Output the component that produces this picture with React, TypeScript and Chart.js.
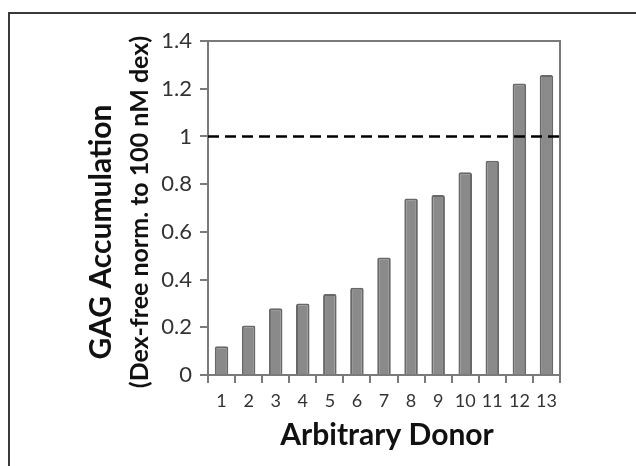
import { useEffect, useRef } from "react";
import { Chart, registerables } from "chart.js";

Chart.register(...registerables);

const donors = ["1", "2", "3", "4", "5", "6", "7", "8", "9", "10", "11", "12", "13"];
const gagValues = [0.12, 0.208, 0.28, 0.3, 0.34, 0.366, 0.493, 0.74, 0.754, 0.85, 0.898, 1.222, 1.257];
const referenceLevel = 1;
const yMin = 0;
const yMax = 1.4;
const yStep = 0.2;
const yTitleLines = ["GAG Accumulation", "(Dex-free norm. to 100 nM dex)"];
const xTitle = "Arbitrary Donor";

const FONT = "Lato, 'Open Sans', sans-serif";
const AXIS_GRAY = "#7a7a7a";

const decorPlugin = {
  id: "decor",
  afterDatasetsDraw(chart: any) {
    const { ctx, chartArea, scales } = chart;
    const y = scales.y.getPixelForValue(referenceLevel);
    ctx.save();
    ctx.strokeStyle = "#000";
    ctx.lineWidth = 2.5;
    ctx.setLineDash([11, 6]);
    ctx.beginPath();
    ctx.moveTo(chartArea.left, y);
    ctx.lineTo(chartArea.right, y);
    ctx.stroke();
    ctx.restore();
  },
  afterDraw(chart: any) {
    const { ctx, chartArea } = chart;
    ctx.save();
    // plot frame (top and right)
    ctx.strokeStyle = AXIS_GRAY;
    ctx.lineWidth = 2;
    ctx.beginPath();
    ctx.moveTo(chartArea.left, chartArea.top);
    ctx.lineTo(chartArea.right, chartArea.top);
    ctx.lineTo(chartArea.right, chartArea.bottom);
    ctx.stroke();

    // outer figure frame (top and left)
    ctx.strokeStyle = "#3a3a3a";
    ctx.lineWidth = 2;
    ctx.beginPath();
    ctx.moveTo(9, 466);
    ctx.lineTo(9, 13);
    ctx.lineTo(636, 13);
    ctx.stroke();

    // y title
    ctx.fillStyle = "#111";
    ctx.textAlign = "center";
    ctx.textBaseline = "middle";
    ctx.save();
    ctx.translate(101, 232);
    ctx.rotate(-Math.PI / 2);
    ctx.font = `bold 30px ${FONT}`;
    ctx.fillText(yTitleLines[0], 0, 0);
    ctx.restore();
    ctx.save();
    ctx.translate(140, 212);
    ctx.rotate(-Math.PI / 2);
    ctx.font = `bold 25px ${FONT}`;
    ctx.fillText(yTitleLines[1], 0, 0);
    ctx.restore();

    // x title
    ctx.font = `bold 30px ${FONT}`;
    ctx.fillText(xTitle, 387, 435);
    ctx.restore();
  },
};

export default function App() {
  const canvasRef = useRef<HTMLCanvasElement>(null);

  useEffect(() => {
    const canvas = canvasRef.current;
    if (!canvas) return;
    const chart = new Chart(canvas, {
      type: "bar",
      data: {
        labels: donors,
        datasets: [
          {
            data: gagValues,
            backgroundColor: "#8a8a8a",
            borderColor: "#686868",
            borderWidth: 2,
            borderRadius: 2,
            barPercentage: 0.5,
            categoryPercentage: 1,
          },
        ],
      },
      options: {
        animation: false,
        responsive: false,
        maintainAspectRatio: false,
        layout: { padding: { left: 0, top: 41, right: 76, bottom: 0 } },
        plugins: {
          legend: { display: false },
          tooltip: { enabled: false },
        },
        scales: {
          x: {
            type: "category",
            offset: true,
            grid: {
              display: true,
              offset: true,
              drawOnChartArea: false,
              drawTicks: true,
              tickLength: 8,
              color: AXIS_GRAY,
              lineWidth: 2,
            },
            border: { display: true, color: AXIS_GRAY, width: 2 },
            ticks: {
              color: "#333",
              font: { family: FONT, size: 18 },
              padding: 7,
              maxRotation: 0,
              autoSkip: false,
            },
            afterFit: (s: any) => {
              s.height = 91;
            },
          },
          y: {
            min: yMin,
            max: yMax,
            grid: {
              display: true,
              drawOnChartArea: false,
              drawTicks: true,
              tickLength: 8,
              color: AXIS_GRAY,
              lineWidth: 2,
            },
            border: { display: true, color: AXIS_GRAY, width: 2 },
            ticks: {
              stepSize: yStep,
              color: "#333",
              font: { family: FONT, size: 22 },
              padding: 8,
              callback: (v: any) => String(Number(Number(v).toFixed(1))),
            },
            afterFit: (s: any) => {
              s.width = 208;
            },
          },
        },
      },
      plugins: [decorPlugin],
    });
    return () => chart.destroy();
  }, []);

  return (
    <div style={{ position: "fixed", left: 0, top: 0, width: 636, height: 466, background: "#fff" }}>
      <canvas ref={canvasRef} width={636} height={466} style={{ display: "block" }} />
    </div>
  );
}
